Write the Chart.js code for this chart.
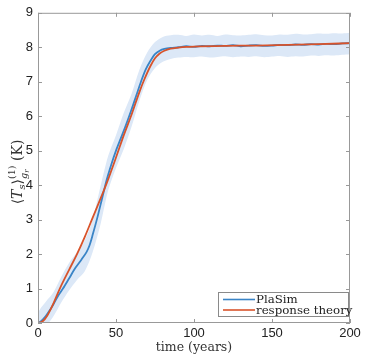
<!DOCTYPE html>
<html>
<head>
<meta charset="utf-8">
<script src="https://cdn.jsdelivr.net/npm/chart.js@4.4.0/dist/chart.umd.min.js"></script>
<style>
  html, body { margin: 0; padding: 0; background: #fff; }
  #wrap { width: 368px; height: 355px; }
</style>
</head>
<body>
<div id="wrap"><canvas id="chart" width="368" height="355"></canvas></div>
<script>
// PlaSim run (mean) and spread band, response theory prediction
const blueTime = [0, 2, 5, 8, 10, 13, 16, 20, 24, 28, 31, 33, 35, 38, 41, 44, 47, 50, 53, 56, 60, 63, 66, 69, 72, 75, 78, 81, 85, 90, 95, 100, 105, 110, 115, 120, 125, 130, 135, 140, 145, 150, 155, 160, 165, 170, 175, 180, 185, 190, 195, 200];
const plasim = [0, 0.05, 0.2, 0.4, 0.55, 0.8, 1.0, 1.3, 1.6, 1.85, 2.05, 2.25, 2.55, 3.05, 3.6, 4.15, 4.6, 5.0, 5.35, 5.7, 6.2, 6.6, 7.0, 7.35, 7.6, 7.8, 7.9, 7.95, 7.98, 8.0, 8.03, 8.01, 8.04, 8.03, 8.05, 8.04, 8.06, 8.03, 8.05, 8.06, 8.04, 8.05, 8.07, 8.06, 8.08, 8.07, 8.09, 8.08, 8.1, 8.09, 8.11, 8.12];

const redTime = [0, 3, 6, 10, 14, 20, 25, 30, 35, 40, 44, 50, 55, 60, 65, 68, 72, 75, 78, 81, 85, 90, 95, 100, 120, 140, 160, 180, 200];
const theory = [0, 0.05, 0.22, 0.58, 1.0, 1.55, 2.0, 2.5, 3.05, 3.6, 4.05, 4.8, 5.45, 6.05, 6.7, 7.05, 7.45, 7.68, 7.82, 7.9, 7.96, 7.99, 8.01, 8.02, 8.04, 8.05, 8.07, 8.09, 8.12];

const bandTime = [0, 2, 5, 10, 15, 20, 25, 30, 35, 40, 45, 50, 55, 60, 65, 70, 75, 80, 85, 90, 95, 100, 105, 110, 115, 120, 125, 130, 135, 140, 145, 150, 155, 160, 165, 170, 175, 180, 185, 190, 195, 200];
const bandUpper = [0.3, 0.45, 0.62, 0.9, 1.35, 1.75, 2.05, 2.4, 3.0, 3.95, 4.85, 5.45, 6.1, 6.65, 7.35, 7.85, 8.15, 8.3, 8.35, 8.36, 8.33, 8.37, 8.34, 8.36, 8.33, 8.37, 8.35, 8.34, 8.36, 8.38, 8.35, 8.34, 8.37, 8.36, 8.39, 8.37, 8.38, 8.4, 8.39, 8.41, 8.4, 8.42];
const bandLower = [-0.3, -0.25, -0.1, 0.2, 0.6, 0.95, 1.25, 1.5, 2.05, 2.85, 3.85, 4.5, 5.05, 5.7, 6.45, 7.05, 7.4, 7.58, 7.66, 7.7, 7.72, 7.71, 7.73, 7.7, 7.72, 7.74, 7.71, 7.73, 7.72, 7.74, 7.71, 7.73, 7.75, 7.72, 7.74, 7.73, 7.76, 7.75, 7.77, 7.76, 7.78, 7.8];

const xTicks = [0, 50, 100, 150, 200];
const yTicks = [0, 1, 2, 3, 4, 5, 6, 7, 8, 9];

const BLUE = '#3a84c6';
const RED = '#d8532b';
const BAND = '#dce8f7';
const FRAME = '#999999';
const SERIF = '"DejaVu Serif", "Liberation Serif", serif';

const pts = (xs, ys) => xs.map((x, i) => ({ x: x, y: ys[i] }));

// box, inward ticks, legend and axis titles
const decorations = {
    id: 'decorations',
    afterDraw(chart) {
        const ctx = chart.ctx;
        const a = chart.chartArea;
        const xs = chart.scales.x, ys = chart.scales.y;
        ctx.save();
        ctx.strokeStyle = FRAME;
        ctx.lineWidth = 1;
        ctx.strokeRect(a.left + 0.5, a.top + 0.5, a.right - a.left - 1, a.bottom - a.top - 1);
        ctx.beginPath();
        xTicks.forEach(v => {
            const px = Math.round(xs.getPixelForValue(v)) + 0.5;
            ctx.moveTo(px, a.bottom); ctx.lineTo(px, a.bottom - 4);
            ctx.moveTo(px, a.top); ctx.lineTo(px, a.top + 4);
        });
        yTicks.forEach(v => {
            const py = Math.round(ys.getPixelForValue(v)) + 0.5;
            ctx.moveTo(a.left, py); ctx.lineTo(a.left + 4, py);
            ctx.moveTo(a.right, py); ctx.lineTo(a.right - 4, py);
        });
        ctx.stroke();

        // legend
        const lx = 218, ly = 292, lw = 130, lh = 24;
        ctx.fillStyle = '#fff';
        ctx.fillRect(lx, ly, lw, lh);
        ctx.strokeStyle = '#8a8a8a';
        ctx.lineWidth = 1;
        ctx.strokeRect(lx + 0.5, ly + 0.5, lw, lh);
        ctx.lineWidth = 1.6;
        ctx.strokeStyle = BLUE;
        ctx.beginPath(); ctx.moveTo(lx + 5, ly + 7.5); ctx.lineTo(lx + 37, ly + 7.5); ctx.stroke();
        ctx.strokeStyle = RED;
        ctx.beginPath(); ctx.moveTo(lx + 5, ly + 18); ctx.lineTo(lx + 37, ly + 18); ctx.stroke();
        ctx.fillStyle = '#222';
        ctx.font = '11.8px ' + SERIF;
        ctx.textBaseline = 'alphabetic';
        ctx.textAlign = 'left';
        ctx.fillText('PlaSim', lx + 38, ly + 11);
        ctx.fillText('response theory', lx + 38, ly + 22);

        // x title
        ctx.textAlign = 'center';
        ctx.font = '12.5px ' + SERIF;
        ctx.fillStyle = '#333';
        ctx.fillText('time (years)', (a.left + a.right) / 2, 351);

        // y title: <T_s>^{(1)}_{g_r} (K)
        ctx.translate(18, 172);
        ctx.rotate(-Math.PI / 2);
        ctx.textAlign = 'left';
        const parts = [
            { t: '\u27E8', f: '14px ' + SERIF, dy: 0 },
            { t: 'T', f: 'italic 14px ' + SERIF, dy: 0 },
            { t: 's', f: 'italic 10px ' + SERIF, dy: 3 },
            { t: '\u27E9', f: '14px ' + SERIF, dy: 0 },
            { t: '(1)', f: '9.5px ' + SERIF, dy: -7, stack: true },
            { t: 'g', f: 'italic 9.5px ' + SERIF, dy: 5 },
            { t: 'r', f: 'italic 7px ' + SERIF, dy: 7 },
            { t: ' (K)', f: '14px ' + SERIF, dy: 0 }
        ];
        parts.forEach(p => { ctx.font = p.f; p.w = ctx.measureText(p.t).width; });
        const supW = parts[4].w, subW = parts[5].w + parts[6].w;
        const total = parts[0].w + parts[1].w + parts[2].w + parts[3].w + Math.max(supW, subW) + parts[7].w;
        let cx = -total / 2;
        const base = 4;
        for (let i = 0; i < parts.length; i++) {
            const p = parts[i];
            ctx.font = p.f;
            ctx.fillText(p.t, cx, base + p.dy);
            if (p.stack) {
                // subscript g_r sits under the superscript
                const g = parts[5], r = parts[6];
                ctx.font = g.f; ctx.fillText(g.t, cx, base + g.dy);
                ctx.font = r.f; ctx.fillText(r.t, cx + g.w, base + r.dy);
                cx += Math.max(supW, subW);
                i += 2;
                continue;
            }
            cx += p.w;
        }
        ctx.restore();
    }
};

new Chart(document.getElementById('chart'), {
    type: 'line',
    data: {
        datasets: [
            {
                label: 'band upper',
                data: pts(bandTime, bandUpper),
                borderWidth: 0,
                pointRadius: 0,
                backgroundColor: BAND,
                fill: '+1',
                tension: 0.3,
                order: 3
            },
            {
                label: 'band lower',
                data: pts(bandTime, bandLower),
                borderWidth: 0,
                pointRadius: 0,
                fill: false,
                tension: 0.3,
                order: 3
            },
            {
                label: 'PlaSim',
                data: pts(blueTime, plasim),
                borderColor: BLUE,
                borderWidth: 1.8,
                pointRadius: 0,
                fill: false,
                tension: 0.3,
                order: 2
            },
            {
                label: 'response theory',
                data: pts(redTime, theory),
                borderColor: RED,
                borderWidth: 1.8,
                pointRadius: 0,
                fill: false,
                cubicInterpolationMode: 'monotone',
                order: 1
            }
        ]
    },
    options: {
        responsive: false,
        devicePixelRatio: 1,
        animation: false,
        layout: { padding: { top: 11, right: 18, left: 0, bottom: 0 } },
        plugins: {
            legend: { display: false },
            tooltip: { enabled: false }
        },
        scales: {
            x: {
                type: 'linear',
                min: 0,
                max: 200,
                afterBuildTicks: s => { s.ticks = xTicks.map(v => ({ value: v })); },
                afterFit: s => { s.height = 32; },
                ticks: {
                    font: { family: '"Liberation Sans", Arial, sans-serif', size: 13 },
                    color: '#222',
                    padding: 3,
                    maxRotation: 0
                },
                grid: { display: false, drawTicks: false },
                border: { display: false }
            },
            y: {
                type: 'linear',
                min: 0,
                max: 9,
                afterBuildTicks: s => { s.ticks = yTicks.map(v => ({ value: v })); },
                afterFit: s => { s.width = 38; },
                ticks: {
                    font: { family: '"Liberation Sans", Arial, sans-serif', size: 13 },
                    color: '#222',
                    padding: 5
                },
                grid: { display: false, drawTicks: false },
                border: { display: false }
            }
        }
    },
    plugins: [decorations]
});
</script>
</body>
</html>
